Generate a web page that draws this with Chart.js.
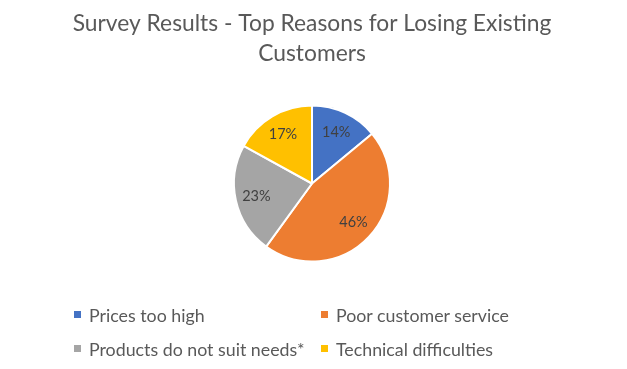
<!DOCTYPE html>
<html>
<head>
<meta charset="utf-8">
<script src="https://cdn.jsdelivr.net/npm/chart.js@4/dist/chart.umd.min.js"></script>
<style>
  html, body { margin: 0; padding: 0; background: #fff; }
  .wrap { position: relative; width: 627px; height: 369px; }
  #legend {
    position: absolute; left: 74px; top: 297.5px;
    display: grid; grid-template-columns: 247px auto; grid-auto-rows: 34.3px;
    font-family: Lato, "Open Sans", sans-serif; font-size: 17.8px; color: #595959;
  }
  #legend .item { display: flex; align-items: center; white-space: nowrap; }
  #legend .box { width: 7px; height: 7px; margin-right: 8px; flex: none; }
</style>
</head>
<body>
<div class="wrap">
  <canvas id="chart" width="627" height="369"></canvas>
  <div id="legend"></div>
</div>
<script>
const titleLines = ["Survey Results - Top Reasons for Losing Existing", "Customers"]
const reasons = ["Prices too high", "Poor customer service", "Products do not suit needs*", "Technical difficulties"]
const shares = [14, 46, 23, 17]
const sliceColors = ["#4472C4", "#ED7D31", "#A5A5A5", "#FFC000"]

// percentage labels drawn inside each slice
const sliceLabels = {
  id: "sliceLabels",
  afterDatasetsDraw(chart) {
    const ctx = chart.ctx
    const total = shares.reduce((a, b) => a + b, 0)
    chart.getDatasetMeta(0).data.forEach((arc, i) => {
      const { x, y, startAngle, endAngle, outerRadius } = arc.getProps(["x", "y", "startAngle", "endAngle", "outerRadius"], true)
      const mid = (startAngle + endAngle) / 2
      const r = outerRadius * 0.73
      ctx.save()
      ctx.fillStyle = "#404040"
      ctx.font = "14.5px Lato, 'Open Sans', sans-serif"
      ctx.textAlign = "center"
      ctx.textBaseline = "middle"
      ctx.fillText(Math.round(shares[i] / total * 100) + "%", x + Math.cos(mid) * r, y + Math.sin(mid) * r)
      ctx.restore()
    })
  }
}

new Chart(document.getElementById("chart"), {
  type: "pie",
  data: {
    labels: reasons,
    datasets: [{
      data: shares,
      backgroundColor: sliceColors,
      borderColor: "#ffffff",
      borderWidth: 2,
      radius: 78
    }]
  },
  options: {
    responsive: false,
    animation: false,
    layout: { padding: { left: 0, right: 3, top: 0, bottom: 81 } },
    plugins: {
      legend: { display: false },
      tooltip: { enabled: false },
      title: {
        display: true,
        text: titleLines,
        color: "#595959",
        font: { family: "Lato, 'Open Sans', sans-serif", size: 22.8, weight: "normal", lineHeight: "30.5px" },
        padding: { top: 8, bottom: 10 }
      }
    }
  },
  plugins: [sliceLabels]
})

const legend = document.getElementById("legend")
reasons.forEach((name, i) => {
  const item = document.createElement("div")
  item.className = "item"
  item.innerHTML = `<span class="box" style="background:${sliceColors[i]}"></span><span>${name}</span>`
  legend.appendChild(item)
})
</script>
</body>
</html>
